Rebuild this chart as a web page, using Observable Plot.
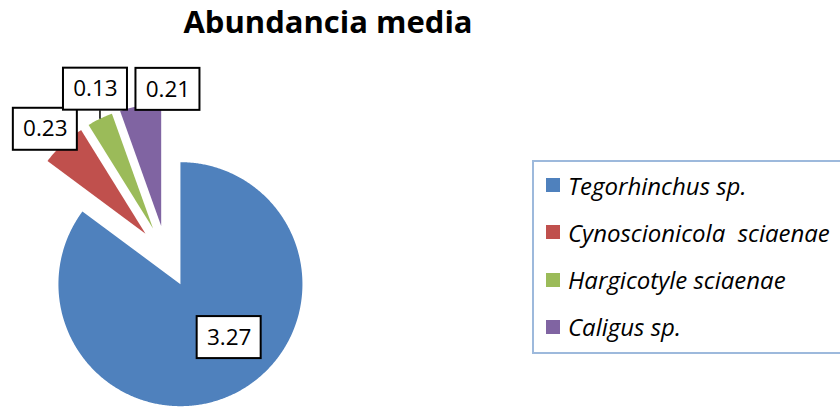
<!DOCTYPE html>
<html><head><meta charset="utf-8">
<script src="https://cdn.jsdelivr.net/npm/d3@7"></script>
<script src="https://cdn.jsdelivr.net/npm/@observablehq/plot@0.6"></script>
<style>
body{margin:0;background:#fff;overflow:hidden}
#wrap{position:relative;width:840px;height:408px;overflow:hidden;font-family:"Open Sans",Lato,sans-serif;color:#000}
#chart{position:absolute;left:0;top:0}
#title{position:absolute;left:0;width:656px;top:5.5px;text-align:center;font-weight:bold;font-size:31px;line-height:31px}
#legend{position:absolute;left:532px;top:160px;width:330px;height:190px;border:2px solid #9DB9DC;box-sizing:content-box}
.row{position:absolute;left:12px;height:24px;display:flex;align-items:center;white-space:pre;font-style:italic;font-size:24px}
.sw{width:14px;height:14px;margin-right:8px;flex:none}
</style>
</head><body>
<div id="wrap">
  <div id="chart"></div>
  <div id="title">Abundancia media</div>
  <div id="legend"></div>
</div>
<script>
// ---- data ----
const species = ["Tegorhinchus sp.", "Cynoscionicola  sciaenae", "Hargicotyle sciaenae", "Caligus sp."];
const abundance = [3.27, 0.23, 0.13, 0.21];
const valueLabels = ["3.27", "0.23", "0.13", "0.21"];

// ---- styling / layout ----
const palette = ["#4F81BD", "#C0504D", "#9BBB59", "#8064A2"];
const W = 840, H = 408;
const R = 122;            // pie radius in px
const CX = 166, CY = 256; // pie centre in px
const EXPLODE = 0.254;    // explosion, fraction of radius
// label placement: angle (deg, clockwise from 12 o'clock) and distance (radii) from the pie centre
const labelAngle = [142.3, 316.4, 337, 0.5];
const labelDist = [0.84, 1.44, 1.49, 1.37];
const BOX_W = 64 / R, BOX_H = 42 / R;

const rows = species.map((name, i) => ({name, value: abundance[i], label: valueLabels[i]}));
const arcs = d3.pie().sort(null).value(d => d.value)(rows);

const pts = [];
const boxes = [];
const leaders = [];
arcs.forEach((p, i) => {
  const name = p.data.name;
  const mid = (p.startAngle + p.endAngle) / 2;
  const ox = EXPLODE * Math.sin(mid), oy = EXPLODE * Math.cos(mid);
  const n = Math.max(2, Math.ceil((p.endAngle - p.startAngle) / (Math.PI / 360)));
  pts.push({name, x: ox, y: oy});
  for (let k = 0; k <= n; k++) {
    const a = p.startAngle + (p.endAngle - p.startAngle) * k / n;
    pts.push({name, x: ox + Math.sin(a), y: oy + Math.cos(a)});
  }
  const la = labelAngle[i] * Math.PI / 180;
  const lx = labelDist[i] * Math.sin(la), ly = labelDist[i] * Math.cos(la);
  const b = {name, label: p.data.label, x: lx, y: ly,
    x1: lx - BOX_W / 2, x2: lx + BOX_W / 2, y1: ly - BOX_H / 2, y2: ly + BOX_H / 2};
  boxes.push(b);
  // leader line from an outside label down to the slice's outer arc when they do not touch
  const mx = ox + Math.sin(mid), my = oy + Math.cos(mid);
  const inside = mx >= b.x1 && mx <= b.x2 && my >= b.y1 && my <= b.y2;
  if (labelDist[i] > 1 && !inside && my < b.y1) leaders.push({x1: mx, y1: b.y1, x2: mx, y2: my});
});

const chart = Plot.plot({
  width: W, height: H, margin: 0,
  x: {domain: [-CX / R, (W - CX) / R], axis: null},
  y: {domain: [-(H - CY) / R, CY / R], axis: null},
  color: {domain: species, range: palette},
  style: {background: "transparent"},
  marks: [
    Plot.line(pts, {x: "x", y: "y", z: "name", fill: "name", stroke: "none", curve: "linear-closed"}),
    Plot.link(leaders, {x1: "x1", y1: "y1", x2: "x2", y2: "y2", stroke: "#000", strokeWidth: 1.5}),
    Plot.rect(boxes, {x1: "x1", x2: "x2", y1: "y1", y2: "y2", fill: "#fff", stroke: "#000", strokeWidth: 2}),
    Plot.text(boxes, {x: "x", y: "y", text: "label", fontSize: 22.5, fontFamily: "Open Sans", fill: "#000", textAnchor: "middle", lineAnchor: "middle"})
  ]
});
document.getElementById("chart").appendChild(chart);

// legend built from the same categories and palette
const legend = document.getElementById("legend");
species.forEach((name, i) => {
  const row = document.createElement("div");
  row.className = "row";
  row.style.top = (11 + i * 47.3) + "px";
  const sw = document.createElement("div");
  sw.className = "sw";
  sw.style.background = palette[i];
  const t = document.createElement("span");
  t.textContent = name;
  row.appendChild(sw); row.appendChild(t);
  legend.appendChild(row);
});
</script>
</body></html>
